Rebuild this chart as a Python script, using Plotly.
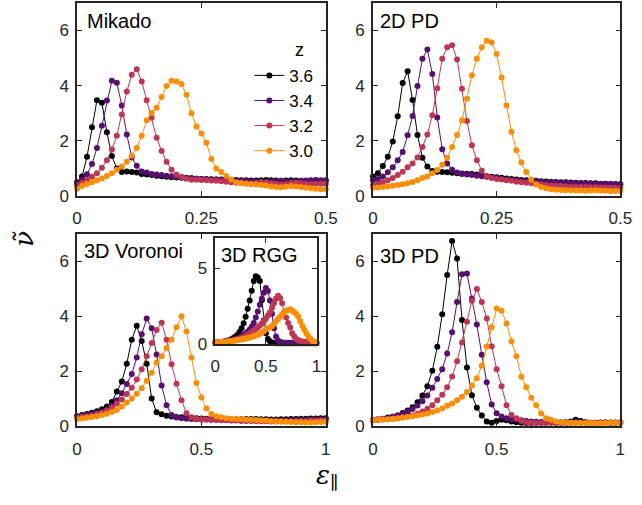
import numpy as np
import plotly.graph_objects as go

# ---------------- data ----------------
eps_half = np.linspace(0, 0.5, 51)   # strain grid for 2D panels
eps_full = np.linspace(0, 1.0, 51)   # strain grid for 3D panels
z_labels = ["3.6", "3.4", "3.2", "3.0"]
colors = ["#000000", "#56106e", "#bc3754", "#f98e09"]

mikado_36 = [0.5,0.71,1.42,2.49,3.47,3.38,2.31,1.45,1.0,0.87,0.89,0.87,0.85,0.8,0.78,0.76,0.74,0.72,0.7,0.68,0.67,0.66,0.65,0.64,0.63,0.62,0.62,0.61,0.6,0.6,0.59,0.58,0.58,0.57,0.57,0.56,0.56,0.57,0.58,0.57,0.56,0.55,0.56,0.57,0.56,0.55,0.54,0.55,0.56,0.55,0.55]
mikado_34 = [0.45,0.6,0.79,1.16,1.74,2.55,3.46,4.18,4.11,3.28,2.23,1.4,1.1,0.89,0.85,0.8,0.78,0.76,0.74,0.72,0.7,0.68,0.66,0.65,0.63,0.62,0.61,0.6,0.6,0.59,0.58,0.57,0.56,0.55,0.55,0.54,0.53,0.52,0.52,0.53,0.54,0.55,0.53,0.52,0.53,0.55,0.56,0.57,0.58,0.57,0.57]
mikado_32 = [0.38,0.48,0.58,0.7,0.83,1.03,1.3,1.69,2.19,2.96,3.79,4.4,4.6,4.15,3.47,2.84,2.11,1.63,1.24,0.95,0.77,0.69,0.63,0.59,0.59,0.58,0.57,0.56,0.55,0.54,0.52,0.5,0.48,0.47,0.46,0.45,0.47,0.5,0.48,0.46,0.44,0.42,0.43,0.46,0.48,0.46,0.44,0.43,0.44,0.45,0.45]
mikado_30 = [0.26,0.36,0.44,0.5,0.57,0.64,0.73,0.83,0.95,1.07,1.24,1.46,1.74,2.19,2.75,3.01,3.2,3.59,3.99,4.18,4.15,4.06,3.67,3.0,2.52,2.27,1.93,1.34,1.0,0.87,0.73,0.6,0.5,0.47,0.45,0.44,0.42,0.4,0.38,0.35,0.33,0.32,0.34,0.36,0.35,0.33,0.3,0.28,0.26,0.25,0.25]

pd2_36 = [0.71,0.83,1.09,1.42,1.98,2.89,4.1,4.52,3.48,2.21,1.39,1.07,0.91,0.88,0.87,0.86,0.84,0.83,0.82,0.81,0.8,0.78,0.75,0.72,0.7,0.68,0.66,0.64,0.62,0.6,0.58,0.57,0.56,0.55,0.54,0.53,0.52,0.51,0.5,0.5,0.49,0.48,0.47,0.47,0.46,0.46,0.45,0.45,0.44,0.44,0.43]
pd2_34 = [0.57,0.62,0.71,0.86,1.04,1.3,1.6,2.2,2.9,3.99,4.98,5.31,4.42,2.85,1.7,1.18,0.95,0.85,0.8,0.78,0.76,0.74,0.72,0.7,0.68,0.65,0.63,0.6,0.58,0.56,0.55,0.54,0.53,0.52,0.51,0.5,0.5,0.49,0.48,0.48,0.47,0.47,0.46,0.46,0.45,0.45,0.44,0.44,0.44,0.43,0.43]
pd2_32 = [0.38,0.43,0.5,0.57,0.65,0.76,0.88,1.04,1.18,1.4,1.78,2.23,2.93,3.91,4.98,5.39,5.47,4.95,3.89,2.72,1.84,1.3,0.92,0.71,0.65,0.62,0.6,0.57,0.55,0.52,0.5,0.48,0.46,0.44,0.42,0.4,0.38,0.37,0.36,0.35,0.34,0.34,0.33,0.33,0.32,0.32,0.31,0.31,0.3,0.3,0.3]
pd2_30 = [0.3,0.31,0.33,0.35,0.37,0.4,0.43,0.46,0.51,0.57,0.65,0.71,0.83,0.94,1.13,1.39,1.78,2.21,2.75,3.53,4.38,4.98,5.39,5.63,5.57,5.15,4.3,3.28,2.33,1.66,1.22,0.87,0.59,0.42,0.33,0.28,0.25,0.23,0.22,0.21,0.21,0.2,0.2,0.19,0.2,0.21,0.2,0.19,0.18,0.18,0.18]

vor_36 = [0.37,0.41,0.45,0.5,0.55,0.62,0.72,0.89,1.27,1.63,2.28,3.15,3.66,3.1,2.28,1.01,0.51,0.44,0.39,0.36,0.34,0.33,0.32,0.31,0.3,0.29,0.28,0.28,0.27,0.27,0.27,0.26,0.26,0.26,0.27,0.27,0.27,0.26,0.26,0.25,0.25,0.26,0.26,0.27,0.27,0.28,0.28,0.29,0.29,0.3,0.3]
vor_34 = [0.35,0.38,0.41,0.45,0.49,0.54,0.6,0.75,0.95,1.2,1.54,1.9,2.5,3.35,3.92,3.57,2.61,1.49,0.77,0.41,0.32,0.3,0.28,0.27,0.26,0.25,0.25,0.24,0.24,0.23,0.23,0.22,0.22,0.22,0.21,0.21,0.21,0.2,0.2,0.2,0.21,0.21,0.22,0.22,0.22,0.23,0.23,0.24,0.24,0.25,0.25]
vor_32 = [0.32,0.34,0.37,0.4,0.45,0.5,0.58,0.68,0.82,0.98,1.18,1.4,1.7,2.08,2.55,3.03,3.5,3.77,3.15,2.26,1.55,0.95,0.48,0.33,0.28,0.26,0.25,0.24,0.23,0.22,0.22,0.21,0.21,0.2,0.2,0.2,0.19,0.19,0.19,0.18,0.18,0.18,0.19,0.19,0.2,0.2,0.2,0.21,0.21,0.22,0.22]
vor_30 = [0.27,0.29,0.31,0.34,0.37,0.41,0.46,0.52,0.6,0.72,0.87,1.01,1.19,1.39,1.66,1.95,2.32,2.55,2.85,3.15,3.6,4.0,3.45,2.5,1.58,1.05,0.65,0.45,0.37,0.33,0.3,0.28,0.27,0.26,0.25,0.24,0.23,0.22,0.21,0.2,0.19,0.18,0.17,0.16,0.15,0.15,0.14,0.14,0.15,0.16,0.17]

pd3_36 = [0.22,0.24,0.27,0.32,0.35,0.4,0.49,0.58,0.7,0.88,1.12,1.46,2.02,2.89,4.08,5.5,6.74,6.1,3.87,2.14,1.13,0.68,0.4,0.18,0.13,0.2,0.24,0.22,0.18,0.15,0.13,0.12,0.12,0.13,0.13,0.14,0.14,0.13,0.14,0.15,0.18,0.24,0.2,0.15,0.13,0.13,0.14,0.14,0.13,0.13,0.14]
pd3_34 = [0.24,0.26,0.28,0.31,0.35,0.4,0.46,0.53,0.63,0.76,0.91,1.12,1.4,1.72,2.08,2.65,3.42,4.52,5.53,5.56,4.65,3.7,2.6,1.6,0.8,0.48,0.36,0.3,0.26,0.24,0.22,0.2,0.18,0.17,0.16,0.15,0.15,0.14,0.14,0.14,0.15,0.15,0.14,0.14,0.13,0.13,0.13,0.14,0.14,0.14,0.14]
pd3_32 = [0.23,0.24,0.25,0.26,0.28,0.3,0.33,0.36,0.4,0.46,0.54,0.64,0.77,0.95,1.15,1.42,1.81,2.37,3.05,3.8,4.57,4.99,4.52,3.92,2.91,2.08,1.46,0.77,0.41,0.3,0.2,0.15,0.13,0.12,0.12,0.12,0.13,0.13,0.12,0.12,0.12,0.13,0.13,0.12,0.12,0.12,0.12,0.13,0.13,0.13,0.13]
pd3_30 = [0.23,0.24,0.25,0.26,0.28,0.3,0.32,0.34,0.37,0.4,0.43,0.47,0.52,0.58,0.65,0.75,0.83,0.95,1.08,1.25,1.48,1.75,2.2,2.9,3.6,4.28,4.2,3.74,3.09,2.55,1.8,1.42,1.04,0.77,0.47,0.3,0.24,0.18,0.15,0.14,0.13,0.13,0.12,0.12,0.12,0.12,0.12,0.12,0.13,0.13,0.13]

rgg_36 = [0.1,0.11,0.12,0.14,0.16,0.19,0.22,0.26,0.32,0.4,0.5,0.62,0.8,1.05,1.37,1.8,2.34,2.88,3.53,4.17,4.49,4.4,4.17,2.9,1.58,0.72,0.33,0.18,0.1,0.07,0.06,0.05,0.05,0.05,0.05,0.05,0.05,0.05,0.05,0.05,0.05,0.05,0.05,0.05,0.05,0.05,0.05,0.05,0.05,0.05,0.05]
rgg_34 = [0.1,0.11,0.12,0.13,0.15,0.17,0.19,0.22,0.25,0.29,0.33,0.38,0.44,0.51,0.6,0.7,0.82,0.97,1.15,1.4,1.75,2.15,2.6,3.0,3.4,3.7,3.5,2.88,2.0,1.04,0.5,0.25,0.13,0.1,0.08,0.08,0.08,0.08,0.08,0.08,0.08,0.08,0.08,0.08,0.08,0.08,0.08,0.08,0.08,0.08,0.08]
rgg_32 = [0.1,0.11,0.12,0.13,0.14,0.16,0.18,0.2,0.22,0.25,0.28,0.31,0.35,0.4,0.46,0.53,0.61,0.7,0.8,0.9,1.0,1.1,1.22,1.36,1.5,1.68,1.88,2.1,2.4,2.7,3.0,3.2,3.05,2.7,2.12,1.75,1.4,1.1,0.72,0.5,0.33,0.25,0.2,0.17,0.15,0.13,0.12,0.11,0.1,0.1,0.1]
rgg_30 = [0.1,0.11,0.12,0.13,0.14,0.15,0.17,0.18,0.2,0.22,0.24,0.26,0.28,0.31,0.34,0.37,0.4,0.44,0.48,0.52,0.57,0.62,0.68,0.75,0.85,1.0,1.05,1.1,1.2,1.35,1.5,1.65,1.8,1.95,2.1,2.2,2.25,2.3,2.2,2.1,2.0,1.8,1.5,1.2,0.95,0.7,0.5,0.35,0.2,0.12,0.1]

ticks_half = [0, 0.25, 0.5]
ticks_half_text = ["0", "0.25", "0.5"]
ticks_full = [0, 0.5, 1]
ticks_full_text = ["0", "0.5", "1"]
ticks_nu = [0, 2, 4, 6]
ticks_nu_inset = [0, 5]

# ---------------- figure ----------------
W, H = 642, 505
def px(v):
    return v / W
def py(v):
    return 1 - v / H

panels = [
    ("Mikado", eps_half, [mikado_36, mikado_34, mikado_32, mikado_30], "x", "y"),
    ("2D PD", eps_half, [pd2_36, pd2_34, pd2_32, pd2_30], "x2", "y2"),
    ("3D Voronoi", eps_full, [vor_36, vor_34, vor_32, vor_30], "x3", "y3"),
    ("3D PD", eps_full, [pd3_36, pd3_34, pd3_32, pd3_30], "x4", "y4"),
    ("3D RGG", eps_full, [rgg_36, rgg_34, rgg_32, rgg_30], "x5", "y5"),
]

fig = go.Figure()
for p_i, (name, xs, series, xa, ya) in enumerate(panels):
    for s_i, ys in enumerate(series):
        fig.add_trace(go.Scatter(
            x=xs, y=ys, mode="lines+markers", name=z_labels[s_i],
            line=dict(color=colors[s_i], width=1),
            marker=dict(color=colors[s_i], size=6, line=dict(width=0)),
            xaxis=xa, yaxis=ya, showlegend=(p_i == 0), cliponaxis=False,
        ))

axcol = "#262626"
tfont = dict(family="Liberation Sans, Arial, sans-serif", size=17, color=axcol)
def xax(dom, rng, tv, tt, anchor):
    return dict(domain=dom, range=rng, tickvals=tv, ticktext=tt, anchor=anchor,
                showline=True, linecolor=axcol, linewidth=1.5, mirror="ticks",
                ticks="inside", ticklen=5, tickwidth=1.3, tickcolor=axcol,
                showgrid=False, zeroline=False, tickfont=tfont, ticklabelstandoff=6)
def yax(dom, tv, anchor):
    return dict(domain=dom, range=[0, 7], tickvals=tv, anchor=anchor,
                showline=True, linecolor=axcol, linewidth=1.5, mirror="ticks",
                ticks="inside", ticklen=5, tickwidth=1.3, tickcolor=axcol,
                showgrid=False, zeroline=False, tickfont=tfont, ticklabelstandoff=3)

xl = [px(74), px(329.5)]
xr = [px(378), px(632)]
yt = [py(200), py(3)]
yb = [py(435), py(238.5)]
xin = [px(216), px(320)]
yin = [py(351), py(243)]

fig.update_layout(
    width=W, height=H, margin=dict(l=0, r=0, t=0, b=0),
    paper_bgcolor="white", plot_bgcolor="white",
    xaxis=xax(xl, [0, 0.5], ticks_half, ticks_half_text, "y"),
    yaxis=yax(yt, ticks_nu, "x"),
    xaxis2=xax(xr, [0, 0.5], ticks_half, ticks_half_text, "y2"),
    yaxis2=yax(yt, ticks_nu, "x2"),
    xaxis3=xax(xl, [0, 1], ticks_full, ticks_full_text, "y3"),
    yaxis3=yax(yb, ticks_nu, "x3"),
    xaxis4=xax(xr, [0, 1], ticks_full, ticks_full_text, "y4"),
    yaxis4=yax(yb, ticks_nu, "x4"),
    xaxis5=xax(xin, [0, 1], ticks_full, ticks_full_text, "y5"),
    yaxis5=yax(yin, ticks_nu_inset, "x5"),
    legend=dict(x=px(251), y=py(59), xanchor="left", yanchor="top",
                bgcolor="rgba(0,0,0,0)", tracegroupgap=0,
                font=dict(family="Liberation Sans, Arial, sans-serif", size=17, color="#000")),
    showlegend=True,
)

title_font = dict(family="Liberation Sans, Arial, sans-serif", size=20, color="#000")
titles = [("Mikado", 82, 8), ("2D PD", 383, 8), ("3D Voronoi", 79, 243), ("3D PD", 383, 248), ("3D RGG", 220, 247)]
for t, x0, y0 in titles:
    fig.add_annotation(text=t, x=px(x0), y=py(y0), xref="paper", yref="paper",
                       xanchor="left", yanchor="top", showarrow=False, font=title_font)

fig.add_annotation(text="z", x=px(303), y=py(51), xref="paper", yref="paper",
                   xanchor="center", yanchor="middle", showarrow=False,
                   font=dict(family="Liberation Sans, Arial, sans-serif", size=18, color="#000"))
fig.add_annotation(text="<i>ν̃</i>", x=px(20), y=py(243), xref="paper", yref="paper",
                   xanchor="center", yanchor="middle", showarrow=False, textangle=-90,
                   font=dict(family="DejaVu Serif, serif", size=26, color="#000"))
fig.add_annotation(text="<i>ε</i><sub>∥</sub>", x=px(331), y=py(486), xref="paper", yref="paper",
                   xanchor="center", yanchor="middle", showarrow=False,
                   font=dict(family="DejaVu Serif, serif", size=26, color="#000"))

fig.write_html("out.html", config={"displayModeBar": False},
               post_script="document.body.style.margin='0px';")
